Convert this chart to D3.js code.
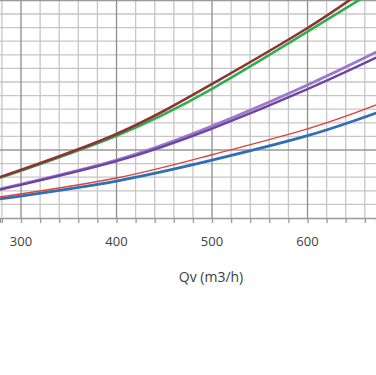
<!DOCTYPE html>
<html lang="en">
<head>
  <meta charset="UTF-8">
  <title>Qv curves</title>
  <style>
    body { margin: 0; background: #fff; }
    text { font-family: "Open Sans", sans-serif; fill: #404040; }
  </style>
</head>
<body>
  <svg width="376" height="375"></svg>
  <script src="https://d3js.org/d3.v7.min.js"></script>
  <script>
// Data (Qv in m3/h, y in chart units)
const qv = [278, 400, 500, 600, 672];
const brownVals  = [80.1, 111.8, 148.5, 189.7, 224];
const greenVals  = [79.5, 110.5, 145, 187, 218];
const purpleLightVals = [71.3, 92.6, 117.6, 147.8, 172];
const purpleDarkVals  = [70.8, 91.8, 115.8, 144.8, 168];
const redVals   = [65.4, 79.4, 96.5, 115.5, 133.1];
const blueVals  = [64, 77.2, 92.5, 110.5, 127.2];
const xTickLabels = [300, 400, 500, 600];

const svg = d3.select("svg");
const width = 376, plotBottom = 218, plotTop = 0.4;

const x = d3.scaleLinear().domain([278, 671.7]).range([0, width]);
const y = d3.scaleLinear().domain([50, 210]).range([plotBottom, plotTop]);

// clip
svg.append("defs").append("clipPath").attr("id", "plot")
  .append("rect").attr("x", 0).attr("y", 0).attr("width", width).attr("height", plotBottom);

// minor vertical grid
const xMinor = d3.range(280, 672, 20);
svg.append("g").selectAll("line").data(xMinor.filter(d => d % 100 !== 0)).join("line")
  .attr("x1", d => x(d)).attr("x2", d => x(d))
  .attr("y1", 0).attr("y2", plotBottom)
  .attr("stroke", "#c6c6c6").attr("stroke-width", 1.3);

// minor horizontal grid
const yMinor = d3.range(60, 211, 10);
svg.append("g").selectAll("line").data(yMinor.filter(d => d !== 100)).join("line")
  .attr("x1", 0).attr("x2", width)
  .attr("y1", d => y(d)).attr("y2", d => y(d))
  .attr("stroke", "#c6c6c6").attr("stroke-width", 1.3);

// major grid
svg.append("g").selectAll("line").data(xMinor.filter(d => d % 100 === 0)).join("line")
  .attr("x1", d => x(d)).attr("x2", d => x(d))
  .attr("y1", 0).attr("y2", plotBottom)
  .attr("stroke", "#8c8c8c").attr("stroke-width", 1.3);

svg.append("g").selectAll("line").data([100, 210]).join("line")
  .attr("x1", 0).attr("x2", width)
  .attr("y1", d => y(d)).attr("y2", d => y(d))
  .attr("stroke", "#999").attr("stroke-width", 1.5);

// x axis
const xAxis = d3.axisBottom(x).tickValues(xMinor).tickSize(5).tickFormat("");
const ax = svg.append("g").attr("transform", `translate(0,${plotBottom})`).call(xAxis);
ax.select(".domain").attr("stroke", "#999").attr("stroke-width", 1.3);
ax.selectAll(".tick line").attr("stroke", "#999").attr("stroke-width", 1.3);

svg.append("g").selectAll("text").data(xTickLabels).join("text")
  .attr("x", d => x(d)).attr("y", 246)
  .attr("text-anchor", "middle")
  .style("font-size", "13px")
  .text(d => d);

svg.append("text")
  .attr("x", 211).attr("y", 282)
  .attr("text-anchor", "middle")
  .style("font-size", "14px")
  .text("Qv (m3/h)");

// curves
const line = vals => d3.line()
  .x((d, i) => x(qv[i]))
  .y(d => y(d))
  .curve(d3.curveNatural)(vals);

const series = [
  { vals: blueVals, color: "#2f6fb5", w: 2.8 },
  { vals: redVals, color: "#d9453d", w: 1.4 },
  { vals: purpleLightVals, color: "#9a7acb", w: 2.8 },
  { vals: purpleDarkVals, color: "#7043a3", w: 2.4 },
  { vals: greenVals, color: "#2fae4e", w: 2.6 },
  { vals: brownVals, color: "#8e3333", w: 2.6 }
];

const g = svg.append("g").attr("clip-path", "url(#plot)");
g.selectAll("path").data(series).join("path")
  .attr("d", d => line(d.vals))
  .attr("fill", "none")
  .attr("stroke", d => d.color)
  .attr("stroke-width", d => d.w);
  </script>
</body>
</html>
